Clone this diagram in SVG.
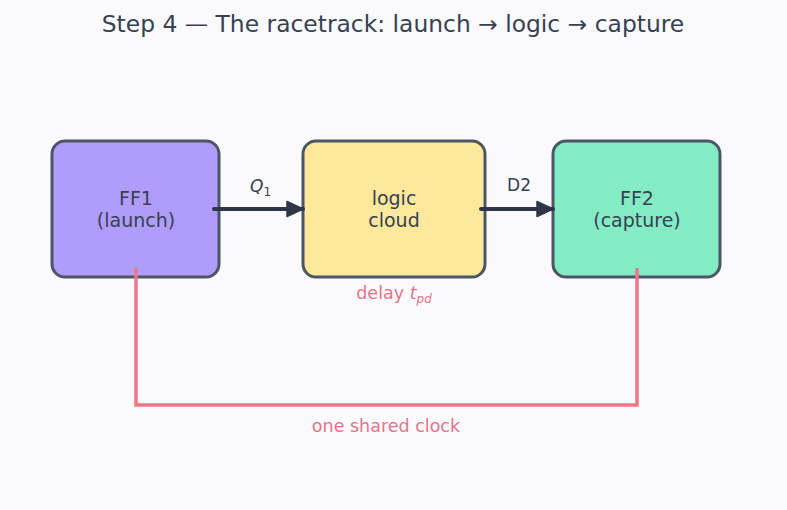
<svg xmlns="http://www.w3.org/2000/svg" width="787" height="510" viewBox="0 0 787 510">
<style>
text{font-family:"DejaVu Sans","Liberation Sans",sans-serif}
.node rect{stroke:#4b5563;stroke-width:3}
.lbl{font-size:19px;fill:#374151;text-anchor:middle}
.wire{stroke:#2d3748;stroke-width:4;fill:none;stroke-linecap:round}
.clk{stroke:#f07585;stroke-width:3.5;fill:none}
.pink{fill:#e8728a;font-size:17.5px;text-anchor:middle}
</style>
<defs>
<marker id="ah" markerWidth="19" markerHeight="18" refX="17" refY="9" orient="auto" markerUnits="userSpaceOnUse"><path d="M1,1.5 L17,9 L1,16.5 z" fill="#2d3748" stroke="#2d3748" stroke-width="1.5" stroke-linejoin="round"/></marker>
</defs>
<rect width="787" height="510" fill="#fafafd"/>
<text x="393" y="32" font-size="23.4" fill="#374151" text-anchor="middle">Step 4 — The racetrack: launch → logic → capture</text>
<g id="ff1" class="node">
<rect x="52" y="141" width="167" height="136" rx="13" fill="#b09cfa"/>
<text class="lbl" x="136" y="205">FF1</text>
<text class="lbl" x="136" y="227">(launch)</text>
</g>
<g id="logic" class="node">
<rect x="303" y="141" width="182" height="136" rx="13" fill="#fde89b"/>
<text class="lbl" x="394" y="205">logic</text>
<text class="lbl" x="394" y="227">cloud</text>
</g>
<g id="ff2" class="node">
<rect x="553" y="141" width="167" height="136" rx="13" fill="#84ecc4"/>
<text class="lbl" x="637" y="205">FF2</text>
<text class="lbl" x="637" y="227">(capture)</text>
</g>
<g id="connectors">
<path class="clk" d="M136,268 V405 H637 V268"/>
<line class="wire" x1="214" y1="209" x2="303" y2="209" marker-end="url(#ah)"/>
<line class="wire" x1="481" y1="209" x2="553" y2="209" marker-end="url(#ah)"/>
<text x="250" y="192" font-size="17" fill="#374151" font-style="italic">Q<tspan font-size="12" font-style="normal" dy="4">1</tspan></text>
<text x="519" y="191" font-size="17" fill="#374151" text-anchor="middle">D2</text>
</g>
<text class="pink" x="394" y="299">delay <tspan font-style="italic">t</tspan><tspan font-style="italic" font-size="12" dy="4">pd</tspan></text>
<text class="pink" x="386" y="432">one shared clock</text>
</svg>
